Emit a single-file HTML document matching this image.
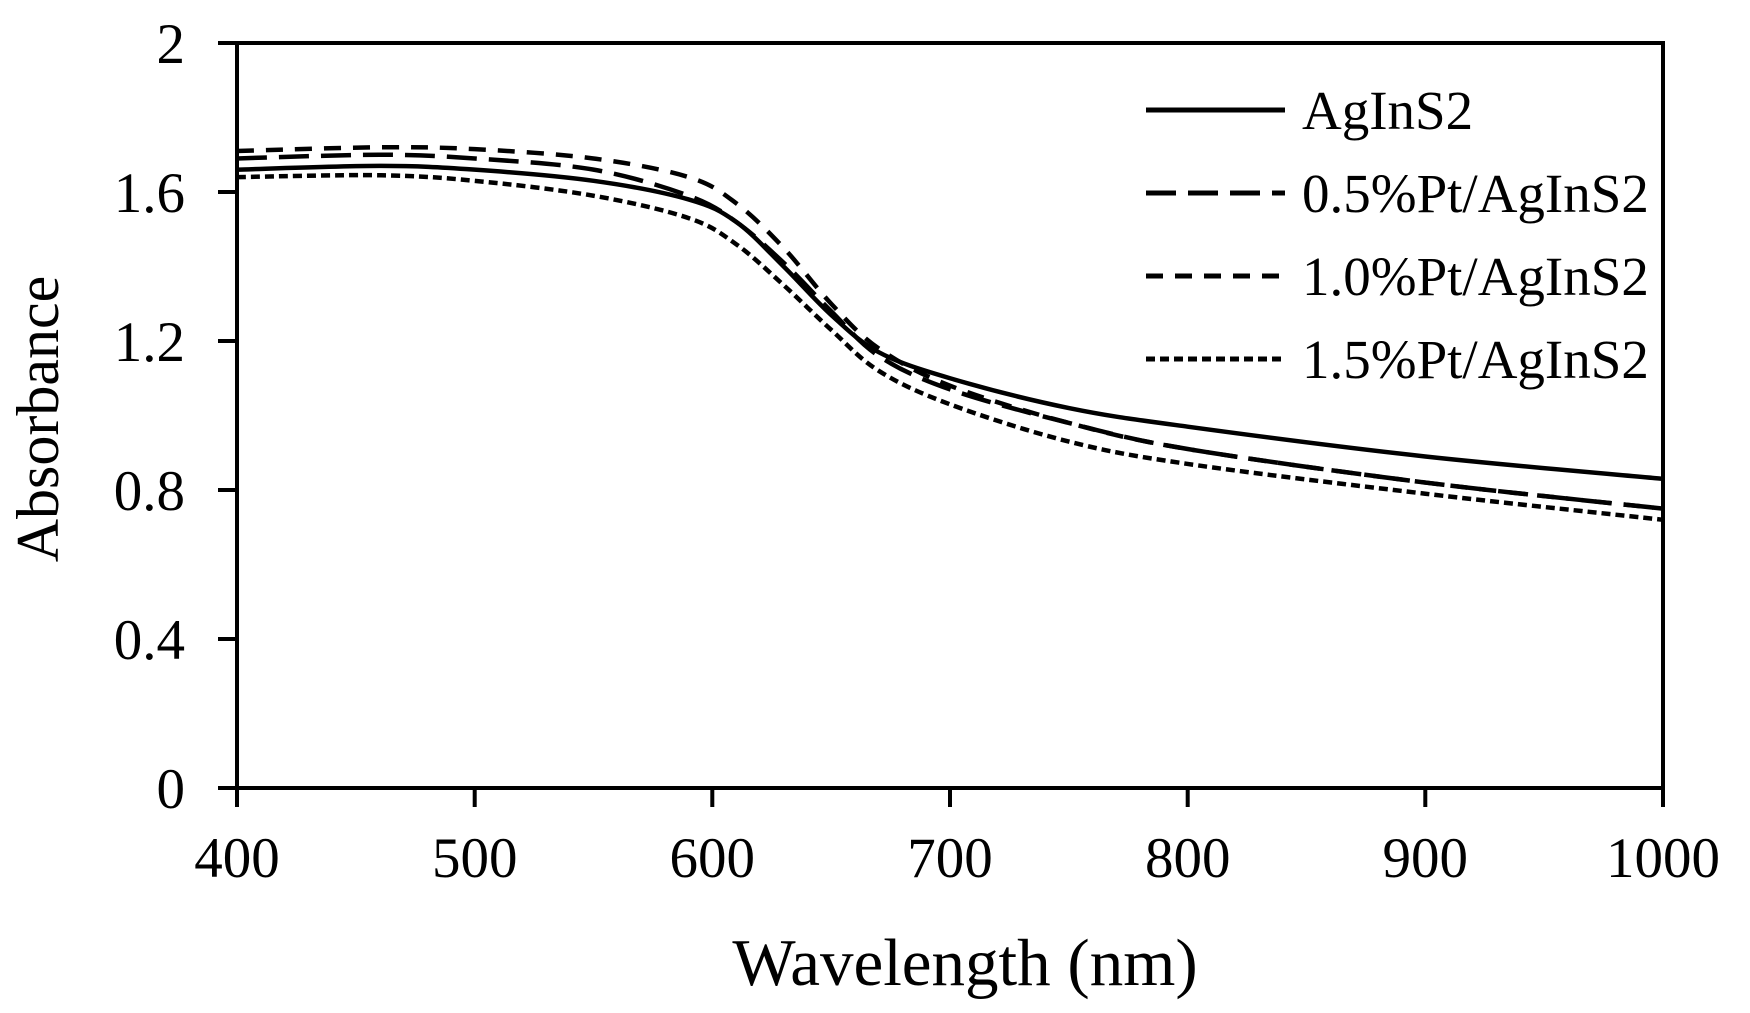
<!DOCTYPE html>
<html><head><meta charset="utf-8"><style>
html,body{margin:0;padding:0;background:#fff;}
svg{display:block;font-family:"Liberation Serif",serif;}
</style></head><body>
<svg id="s" width="1750" height="1013" viewBox="0 0 1750 1013" xmlns="http://www.w3.org/2000/svg">
<g id="curves" fill="none" stroke="#000" stroke-width="4.5"></g>
<g stroke="#000" stroke-width="4" fill="none">
<path d="M237,43 H1663 V788 H237 Z"/>
<path d="M218,43H237M218,192H237M218,341H237M218,490H237M218,639H237M218,788H237"/>
<path d="M237,788V807M474.7,788V807M712.3,788V807M950,788V807M1187.7,788V807M1425.3,788V807M1663,788V807"/>
</g>
<g font-size="57" text-anchor="end">
<text x="185" y="63">2</text>
<text x="185" y="212">1.6</text>
<text x="185" y="361">1.2</text>
<text x="185" y="510">0.8</text>
<text x="185" y="659">0.4</text>
<text x="185" y="808">0</text>
</g>
<g font-size="57" text-anchor="middle">
<text x="237" y="877">400</text>
<text x="474.7" y="877">500</text>
<text x="712.3" y="877">600</text>
<text x="950" y="877">700</text>
<text x="1187.7" y="877">800</text>
<text x="1425.3" y="877">900</text>
<text x="1663" y="877">1000</text>
<text x="965" y="985" font-size="67">Wavelength (nm)</text>
<text transform="translate(58,419) rotate(-90)" font-size="60">Absorbance</text>
</g>
<g stroke="#000" stroke-width="5">
<line x1="1146" y1="110" x2="1285" y2="110"/>
<line x1="1146" y1="193" x2="1285" y2="193" stroke-dasharray="30,12"/>
<line x1="1146" y1="276" x2="1285" y2="276" stroke-dasharray="17,12"/>
<line x1="1146" y1="359" x2="1285" y2="359" stroke-dasharray="9,5"/>
</g>
<g font-size="55">
<text x="1302" y="129">AgInS2</text>
<text x="1302" y="212">0.5%Pt/AgInS2</text>
<text x="1302" y="295">1.0%Pt/AgInS2</text>
<text x="1302" y="378">1.5%Pt/AgInS2</text>
</g>
</svg>
<script>
var wl=[400,460,500,550,590,610,630,650,670,700,750,800,900,1000];
var S=[
{d:[1.66,1.67,1.66,1.63,1.58,1.52,1.40,1.27,1.17,1.10,1.02,0.97,0.89,0.83],a:""},
{d:[1.69,1.70,1.69,1.66,1.59,1.52,1.41,1.28,1.16,1.07,0.98,0.91,0.82,0.75],a:"30,12"},
{d:[1.71,1.72,1.715,1.69,1.64,1.57,1.45,1.30,1.18,1.08,0.98,0.91,0.82,0.75],a:"17,12"},
{d:[1.64,1.645,1.63,1.59,1.53,1.46,1.35,1.23,1.12,1.03,0.93,0.87,0.79,0.72],a:"9,5"}];
var g=document.getElementById("curves");
S.forEach(function(s){
 var p=wl.map(function(w,i){return [237+2.3767*(w-400),788-372.5*s.d[i]];});
 var d="M"+p[0][0]+","+p[0][1];
 for(var i=0;i<p.length-1;i++){
  var p0=p[i-1]||p[i],p1=p[i],p2=p[i+1],p3=p[i+2]||p2;
  var c1=[p1[0]+(p2[0]-p0[0])/6,p1[1]+(p2[1]-p0[1])/6];
  var c2=[p2[0]-(p3[0]-p1[0])/6,p2[1]-(p3[1]-p1[1])/6];
  d+="C"+c1+" "+c2+" "+p2;
 }
 var e=document.createElementNS("http://www.w3.org/2000/svg","path");
 e.setAttribute("d",d);
 if(s.a)e.setAttribute("stroke-dasharray",s.a);
 g.appendChild(e);
});
</script>
</body></html>
